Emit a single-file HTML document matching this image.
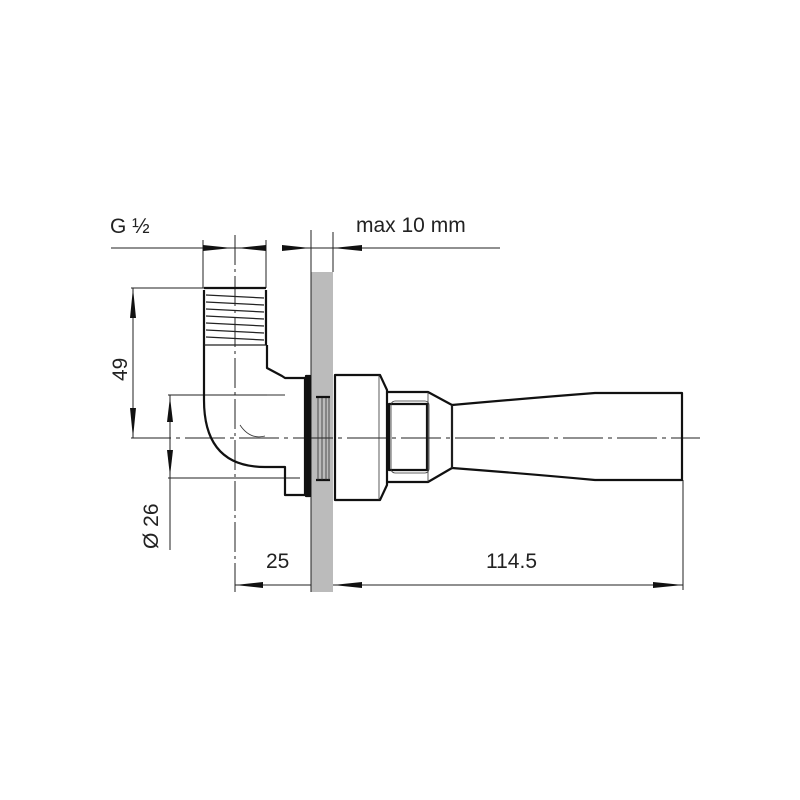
<!DOCTYPE html>
<html><head><style>body{margin:0;background:#fff}svg{display:block}text{font-family:"Liberation Sans",sans-serif;fill:#222}</style></head><body>
<svg width="800" height="800" viewBox="0 0 800 800">
<rect width="800" height="800" fill="#fff"/>
<rect x="311" y="272" width="22" height="320" fill="#bbb"/>
<g stroke="#222" fill="none" stroke-width="1">
<line x1="311" y1="230" x2="311" y2="592"/>
<line x1="333" y1="232" x2="333" y2="272"/>
<line x1="111" y1="248" x2="266" y2="248"/>
<line x1="203" y1="240" x2="203" y2="288"/>
<line x1="266" y1="240" x2="266" y2="288"/>
<line x1="235" y1="235" x2="235" y2="592" stroke-dasharray="30,4,3,4"/>
<line x1="282" y1="248" x2="500" y2="248"/>
<line x1="131" y1="288" x2="266" y2="288"/>
<line x1="133" y1="288" x2="133" y2="438"/>
<line x1="131" y1="438" x2="700" y2="438" stroke-dasharray="40,5,4,5"/>
<line x1="168" y1="395" x2="285" y2="395"/>
<line x1="168" y1="478" x2="300" y2="478"/>
<line x1="170" y1="395" x2="170" y2="550"/>
<line x1="235" y1="585" x2="311" y2="585"/>
<line x1="333" y1="585" x2="683" y2="585"/>
<line x1="683" y1="480" x2="683" y2="590"/>
</g>
<g fill="#111">
<polygon points="203,245 232,248 203,251"/>
<polygon points="266,245 237,248 266,251"/>
<polygon points="282,245 310,248 282,251"/>
<polygon points="362,245 333,248 362,251"/>
<polygon points="130,318 133,288 136,318"/>
<polygon points="130,408 133,438 136,408"/>
<polygon points="167,422 170,397 173,422"/>
<polygon points="167,450 170,476 173,450"/>
<polygon points="263,582 235,585 263,588"/>
<polygon points="362,582 333,585 362,588"/>
<polygon points="653,582 683,585 653,588"/>
</g>
<g stroke="#111" fill="none" stroke-width="2.2" stroke-linejoin="round">
<path d="M204,288 L266,288 M204,290 L204,345 M266,290 L266,345"/>
<path d="M204,345 L204,400 Q204,467 265,467 L285,467 L285,495 L305,495 L305,378 L285,378 L282,376 L267,368 L267,345"/>
<rect x="306" y="376" width="4" height="120" fill="#111"/>
<path d="M335,375 L380,375 L387,390 L387,485 L380,500 L335,500 Z"/>
<path d="M387,392 L428,392 L452,405 L452,468 L428,482 L387,482"/>
<rect x="389" y="404" width="38" height="66"/>
<path d="M452,405 Q530,398 595,393 L682,393 L682,480 L595,480 Q530,474 452,468"/>
<path d="M316,397 L330,397 M316,480 L330,480"/>
</g>
<g stroke="#222" fill="none" stroke-width="1.3">
<path d="M206,295 L264,298 M206,302 L264,305 M206,309 L264,312 M206,316 L264,319 M206,323 L264,326 M206,330 L264,333 M206,337 L264,340"/>
<line x1="204" y1="345" x2="266" y2="345"/>
</g>
<g stroke="#333" fill="none" stroke-width="0.8">
<line x1="267" y1="395" x2="285" y2="395"/>
<line x1="379" y1="375" x2="379" y2="500"/>
<line x1="428" y1="392" x2="428" y2="482"/>
<line x1="452" y1="405" x2="452" y2="468"/>
<rect x="391" y="401" width="38" height="72" rx="4"/>
<path d="M318,398 L318,480 M322,398 L322,480 M326,398 L326,480 M329,398 L329,480"/>
<path d="M240,425 Q250,440 265,436"/>
</g>
<text x="110" y="233" font-size="21">G ½</text>
<text x="356" y="232" font-size="21">max 10 mm</text>
<text x="266" y="568" font-size="21">25</text>
<text x="486" y="568" font-size="21">114.5</text>
<text transform="translate(127,381) rotate(-90)" font-size="21">49</text>
<text transform="translate(158,549) rotate(-90)" font-size="21">Ø 26</text>
</svg>
</body></html>
